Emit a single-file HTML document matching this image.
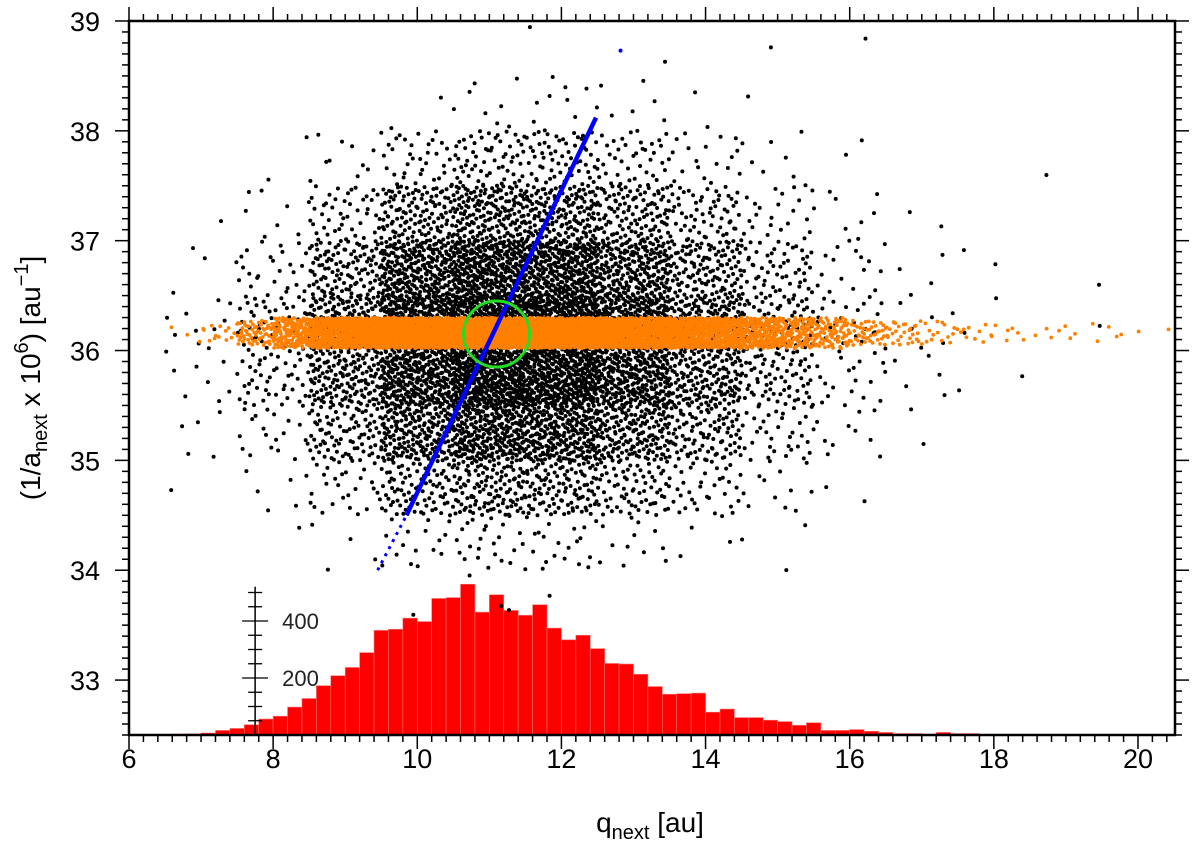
<!DOCTYPE html>
<html><head><meta charset="utf-8">
<style>
html,body{margin:0;padding:0;background:#fff;}
svg{display:block;font-family:"Liberation Sans",sans-serif;}
</style></head>
<body>
<svg id="chart" width="1200" height="856" viewBox="0 0 1200 856" xmlns="http://www.w3.org/2000/svg">
<g id="hist"></g>
<g id="black"></g>
<g id="orange"></g>
<g id="blue"></g>
<g id="green"></g>
<g id="axes"></g>
<g id="hax"></g>
<text x="650" y="832" font-size="28" text-anchor="middle" fill="#000">q<tspan font-size="20" dy="7">next</tspan><tspan dy="-7"> [au]</tspan></text>
<text transform="translate(40,378) rotate(-90)" font-size="28" text-anchor="middle" fill="#000">(1/a<tspan font-size="20" dy="7">next</tspan><tspan dy="-7"> x 10</tspan><tspan font-size="20" dy="-12">6</tspan><tspan dy="12">) [au</tspan><tspan font-size="20" dy="-12">−1</tspan><tspan dy="12">]</tspan></text>
</svg>
<script>
// ---- data ----
const histStart = 6.0;
const histBin = 0.2;
const histCounts = [0,2,2,3,4,7,16,23,36,56,66,98,128,173,208,237,289,367,371,410,398,479,482,529,431,492,437,420,457,375,334,350,303,251,249,213,170,143,145,147,80,91,61,61,52,47,34,43,16,16,19,13,9,5,5,3,9,5,5,1];
const cloudQEdges = [6.5,7.5,8.5,9.5,10.5,11.5,12.5,13.5,14.5,15.5,16.5,17.5,18.5,19.5,20.5];
const cloudYEdges = [39,38.5,38,37.5,37,36.5,36,35.5,35,34.5,34,33.5];
const cloudRow0 = [0,0,0,0,0,1,1,0,1,1,0,0,0,0];
const cloudRow1 = [0,0,0,2,8,10,6,2,1,0,0,0,0,0];
const cloudRow2 = [0,2,10,35,60,60,40,18,8,2,0,0,1,0];
const cloudRow3 = [1,8,45,120,170,160,110,60,22,8,2,0,0,0];
const cloudRow4 = [4,25,110,250,320,300,220,120,55,16,4,2,1,0];
const cloudRow5 = [10,50,170,340,420,400,300,180,80,25,6,2,1,0];
const cloudRow6 = [8,45,150,300,400,370,270,160,70,20,5,2,0,0];
const cloudRow7 = [5,20,85,200,270,250,170,95,35,10,2,0,0,0];
const cloudRow8 = [1,6,28,85,120,110,70,35,12,2,0,0,0,0];
const cloudRow9 = [0,1,4,16,25,20,12,4,3,0,0,0,0,0];
const cloudRow10 = [0,0,0,1,3,1,0,0,0,0,0,0,0,0];
const orangeQ = [6.5,7,7.5,8,8.5,9,9.5,10,10.5,11,11.5,12,12.5,13,13.5,14,14.5,15,15.5,16,16.5,17,17.5,18,18.5,19,19.5,20];
const orangeCounts = [3,14,60,130,200,260,300,320,330,330,320,300,280,250,220,190,150,110,80,45,28,16,10,6,5,4,3,2];
const orangeBand = [36.02,36.3];
const blueLine = [[9.45,34.0],[9.85,34.5],[12.48,38.12]];
const blueOutlier = [12.82,38.73];
const greenCircle = [11.1,36.15];
const xTicks = [6,8,10,12,14,16,18,20];
const yTicks = [33,34,35,36,37,38,39];
const histTicks = [200,400];

// ---- scales ----
const X0=129, X1=1175, Y0=735, Y1=21;
const xs = q => X0 + (q-6)*72.07;
const ys = v => Y0 - (v-32.5)*109.85;
const hys = c => Y0 - c*0.285;
const NS="http://www.w3.org/2000/svg";
function mk(tag, parent, attrs){const e=document.createElementNS(NS,tag);for(const k in attrs)e.setAttribute(k,attrs[k]);parent.appendChild(e);return e;}
function halton(i,b){let f=1,r=0;while(i>0){f/=b;r+=f*(i%b);i=Math.floor(i/b);}return r;}

// histogram
const hg=document.getElementById('hist');
histCounts.forEach((c,i)=>{
  if(c<=0)return;
  const x=xs(histStart+i*histBin), w=xs(histStart+(i+1)*histBin)-x;
  const r=mk('rect',hg,{x:x,y:hys(c),width:w,height:Y0-hys(c),fill:'#ff0000',stroke:'#ff7070','stroke-width':0.6});
  
  
});

// black cloud
const bg=document.getElementById('black');
const cloudRows=[cloudRow0,cloudRow1,cloudRow2,cloudRow3,cloudRow4,cloudRow5,cloudRow6,cloudRow7,cloudRow8,cloudRow9,cloudRow10];
let seed=1;
cloudRows.forEach((row,ri)=>{
  row.forEach((n,ci)=>{
    const qa=cloudQEdges[ci], qb=cloudQEdges[ci+1], ya=cloudYEdges[ri+1], yb=cloudYEdges[ri];
    for(let k=0;k<n;k++){
      seed+=7;
      const q=qa+(qb-qa)*halton(seed,2), v=ya+(yb-ya)*halton(seed,3);
      const c=mk('circle',bg,{cx:xs(q).toFixed(1),cy:ys(v).toFixed(1),r:2,fill:'#000'});
      
      
    }
  });
});

// orange band
const og=document.getElementById('orange');
orangeQ.forEach((q0,i)=>{
  const n=orangeCounts[i];
  const spread = n>60?1:(n>15?0.8:0.6);
  const mid=(orangeBand[0]+orangeBand[1])/2, half=(orangeBand[1]-orangeBand[0])/2*spread;
  for(let k=0;k<n;k++){
    seed+=5;
    const q=q0+0.5*halton(seed,2), v=mid-half+2*half*halton(seed,3);
    const c=mk('circle',og,{cx:xs(q).toFixed(1),cy:ys(v).toFixed(1),r:1.9,fill:'#ff8000'});
    
    
  }
});

// blue line
const blg=document.getElementById('blue');
const l1=mk('line',blg,{x1:xs(blueLine[0][0]),y1:ys(blueLine[0][1]),x2:xs(blueLine[1][0]),y2:ys(blueLine[1][1]),stroke:'#0000ff','stroke-width':3,'stroke-dasharray':'3 5'});


const l2=mk('line',blg,{x1:xs(blueLine[1][0]),y1:ys(blueLine[1][1]),x2:xs(blueLine[2][0]),y2:ys(blueLine[2][1]),stroke:'#0000ff','stroke-width':4.5});


const bo=mk('circle',blg,{cx:xs(blueOutlier[0]),cy:ys(blueOutlier[1]),r:2,fill:'#0000ff'});



// green circle
const gc=mk('circle',document.getElementById('green'),{cx:xs(greenCircle[0]),cy:ys(greenCircle[1]),r:33,fill:'none',stroke:'#22dd22','stroke-width':3});



// axes
const ag=document.getElementById('axes');
const fr=mk('rect',ag,{x:X0,y:Y1,width:X1-X0,height:Y0-Y1,fill:'none',stroke:'#000','stroke-width':2.5});


for(let i=0;i<=72;i++){
  const q=6+i*0.2; if(q>20.5)break;
  const x=xs(q), major=(i%10===0), L=major?14:7;
  mk('line',ag,{x1:x,y1:Y0,x2:x,y2:Y0+L,stroke:'#000','stroke-width':1.5});
  mk('line',ag,{x1:x,y1:Y1,x2:x,y2:Y1-L,stroke:'#000','stroke-width':1.5});
}
for(let i=0;i<=65;i++){
  const v=32.5+i*0.1, y=ys(v), major=(i%10===5), L=major?14:7;
  mk('line',ag,{x1:X0,y1:y,x2:X0-L,y2:y,stroke:'#000','stroke-width':1.5});
  mk('line',ag,{x1:X1,y1:y,x2:X1+L,y2:y,stroke:'#000','stroke-width':1.5});
}
xTicks.forEach(t=>{
  const e=mk('text',ag,{x:xs(t),y:768,'font-size':27,'text-anchor':'middle',fill:'#000'});
  e.textContent=t;
  
  
});
yTicks.forEach(t=>{
  const e=mk('text',ag,{x:100,y:ys(t)+10,'font-size':27,'text-anchor':'end',fill:'#000'});
  e.textContent=t;
  
  
});

// histogram count axis
const hx=document.getElementById('hax'), ax=xs(7.75);
mk('line',hx,{x1:ax,y1:Y0,x2:ax,y2:hys(520),stroke:'#000','stroke-width':1.5});
for(let c=50;c<=500;c+=50){
  const major=(c%200===0), L=major?13:7;
  mk('line',hx,{x1:ax-L,y1:hys(c),x2:ax+L,y2:hys(c),stroke:'#000','stroke-width':1.3});
}
histTicks.forEach(t=>{
  const e=mk('text',hx,{x:ax+27,y:hys(t)+8,'font-size':22,fill:'#222'});
  e.textContent=t;
  
  
});
</script>
</body></html>
